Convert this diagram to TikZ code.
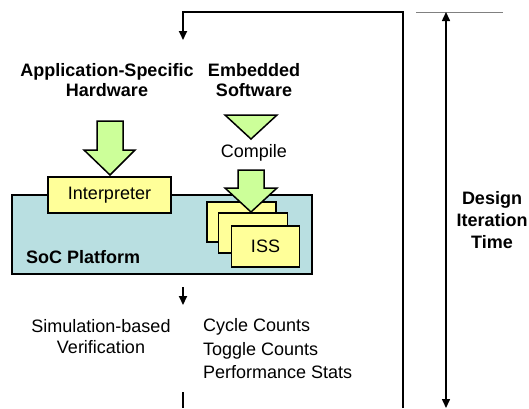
\documentclass[tikz,border=0pt]{standalone}
\usepackage{fontspec}
\setmainfont{Liberation Sans}
\usetikzlibrary{arrows.meta}

\definecolor{socfill}{HTML}{B9DFE1}
\definecolor{boxfill}{HTML}{FFFF99}
\definecolor{arrfill}{HTML}{CCFF99}

\begin{document}
\begin{tikzpicture}[x=1pt, y=-1pt,
  title/.style   = {font=\fontsize{18}{20.5}\selectfont\bfseries, align=center, inner sep=0pt},
  plain/.style   = {font=\fontsize{18}{21}\selectfont, align=center, inner sep=0pt},
  stats/.style   = {font=\fontsize{18}{23.5}\selectfont, align=left, inner sep=0pt, anchor=west},
  blk/.style     = {draw, line width=1.5pt, fill=boxfill, inner sep=0pt,
                    font=\fontsize{18}{21}\selectfont},
  plat/.style    = {draw, line width=1.5pt, fill=socfill, inner sep=0pt},
  fat/.style     = {draw, line width=1.5pt, fill=arrfill, line join=miter},
                     % the fat green arrows are shapes, not connectors
  loopln/.style  = {line width=2pt},
  flow/.style    = {line width=2pt, -{Triangle[length=9pt,width=8pt]}},
  dim/.style     = {line width=1.5pt,
                    {Triangle[length=9pt,width=8pt]}-{Triangle[length=9pt,width=8pt]}},
  rule/.style    = {gray, line width=1pt},
]
  \useasboundingbox (0,0) rectangle (529,408);

  \node[title] (hw) at (107,80) {Application-Specific\\Hardware};
  \node[title] (sw) at (254,80) {Embedded\\Software};

  % platform and what sits on it
  \node[plat, minimum width=300pt, minimum height=79pt] (soc) at (162,234.5) {};
  \node[title, anchor=west] (soclbl) at (26,257) {SoC Platform};
  \node[blk, minimum width=123pt, minimum height=36pt] (interp) at (109.5,195) {Interpreter};
  \node[blk, minimum width=69pt, minimum height=40pt] (iss1) at (241.5,222) {};
  \node[blk, minimum width=69pt, minimum height=40pt] (iss2) at (253,233) {};
  \node[blk, minimum width=68pt, minimum height=41pt] (iss3) at (265.5,246.5) {ISS};

  % fat arrows and the compile step
  \draw[fat] (97,121) -- (123,121) -- (123,150) -- (135,150) -- (110,175)
             -- (84,150) -- (97,150) -- cycle;
  \draw[fat] (225,115) -- (277,115) -- (251,139) -- cycle;
  \node[plain] (compile) at (254,153) {Compile};
  \draw[fat] (238,170) -- (264,170) -- (264,188) -- (277,188) -- (251,212)
             -- (225,188) -- (238,188) -- cycle;

  % results
  \node[plain] (verif) at (101,336.5) {Simulation-based\\Verification};
  \node[stats] (res) at (203,349) {Cycle Counts\\Toggle Counts\\Performance Stats};

  % the iteration loop
  \coordinate (loopin)  at (183,40);
  \coordinate (looptr)  at (403,12);
  \coordinate (loopbr)  at (403,408);
  \coordinate (socout)  at (183,287);
  \coordinate (resin)   at (183,305);
  \coordinate (loopout) at (183,392);
  \coordinate (loopbl)  at (183,408);
  \draw[flow] (loopbr) -- (looptr) -| (loopin);
  \draw[flow] (socout) -- (resin);
  \draw[loopln] (loopout) -- (loopbl);

  % time axis
  \coordinate (ruleL) at (416,12);
  \coordinate (ruleR) at (503,12);
  \coordinate (dimtop) at (446,12);
  \coordinate (dimbot) at (446,408);
  \draw[rule] (ruleL) -- (ruleR);
  \draw[dim] (dimtop) -- (dimbot);
  \node[title, font=\fontsize{18}{22}\selectfont\bfseries] (dimlbl) at (492,220) {Design\\Iteration\\Time};
\end{tikzpicture}
\end{document}
